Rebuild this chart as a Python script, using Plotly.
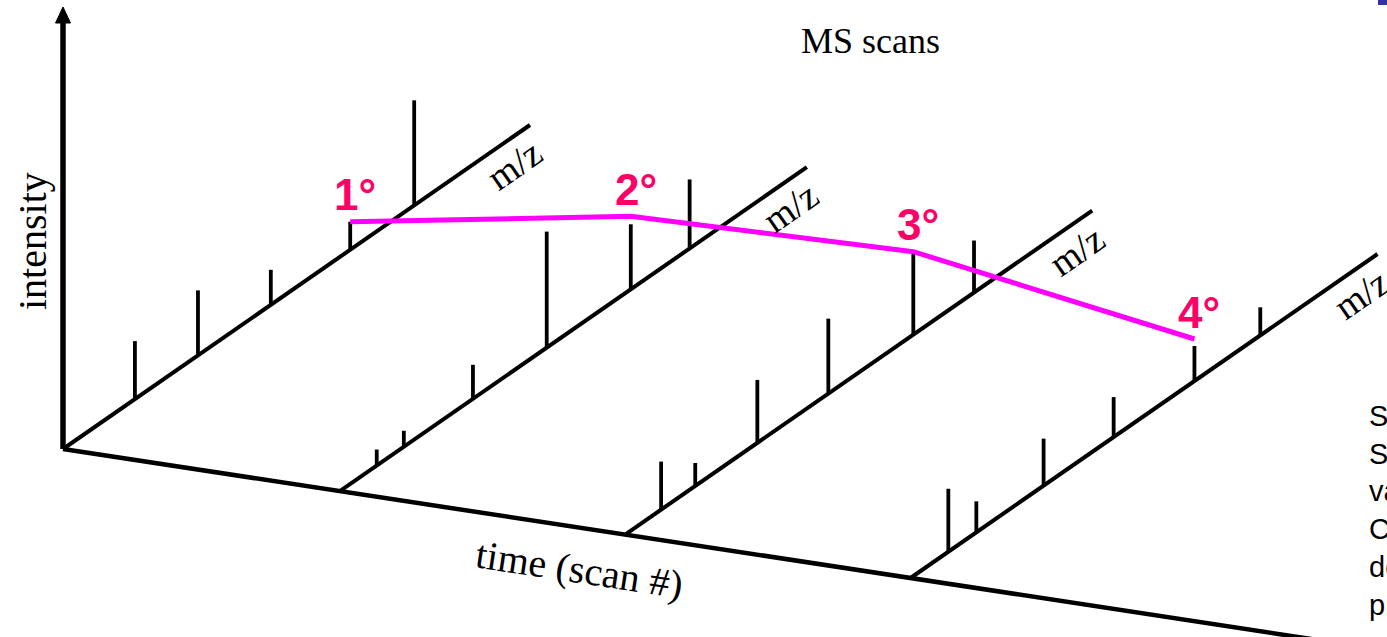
import math
import plotly.graph_objects as go

W, H = 1387, 637

# Scans along the time axis
scan_labels = ["1°", "2°", "3°", "4°"]
scan_time = [1.0, 1.98, 2.99, 4.0]

# Peak lists per scan: m/z position (0-1000 along the m/z axis) and intensity
mz_scan1 = [154, 289, 445, 615, 752]
int_scan1 = [58, 65, 35, 28, 105]
mz_scan2 = [79, 137, 285, 443, 623, 749]
int_scan2 = [16, 16, 34, 116, 65, 69]
mz_scan3 = [77, 150, 283, 435, 617, 747]
int_scan3 = [48, 23, 63, 75, 83, 52]
mz_scan4 = [81, 141, 285, 435, 608, 749]
int_scan4 = [63, 31, 47, 40, 35, 28]

# One ion followed from scan to scan
xic_mz = [615, 623, 617, 608]
xic_intensity = [28, 73, 83, 42]

mz_max = 1000
time_axis_end = 5.5
intensity_axis_max = 442

scans_mz = [mz_scan1, mz_scan2, mz_scan3, mz_scan4]
scans_int = [int_scan1, int_scan2, int_scan3, int_scan4]

# Oblique projection: time runs down-right, m/z up-right, intensity straight up
ORIGIN = (63.0, 449.0)
TIME_VEC = (282.5, 43.0)
MZ_VEC = (467.0, -324.0)
INT_VEC = (0.0, -1.0)


def project(t, mz, inten):
    u = t - scan_time[0]
    f = mz / mz_max
    x = ORIGIN[0] + u * TIME_VEC[0] + f * MZ_VEC[0] + inten * INT_VEC[0]
    y = ORIGIN[1] + u * TIME_VEC[1] + f * MZ_VEC[1] + inten * INT_VEC[1]
    return x, y


def segments(pairs):
    xs, ys = [], []
    for a, b in pairs:
        xs += [a[0], b[0], None]
        ys += [a[1], b[1], None]
    return xs, ys


BLACK = "#000000"
fig = go.Figure()

# time axis
t0 = scan_time[0]
xs, ys = segments([(project(t0, 0, 0), project(time_axis_end, 0, 0))])
fig.add_trace(go.Scatter(x=xs, y=ys, mode="lines", line=dict(color=BLACK, width=4.5)))

# intensity axis with a filled arrowhead
head_len, head_half = 16, 7.5
tip = project(t0, 0, intensity_axis_max)
xs, ys = segments([(project(t0, 0, 0), project(t0, 0, intensity_axis_max - head_len + 2))])
fig.add_trace(go.Scatter(x=xs, y=ys, mode="lines", line=dict(color=BLACK, width=5.5)))
fig.add_trace(go.Scatter(
    x=[tip[0], tip[0] - head_half, tip[0] + head_half, tip[0]],
    y=[tip[1], tip[1] + head_len, tip[1] + head_len, tip[1]],
    mode="lines", fill="toself", fillcolor=BLACK, line=dict(color=BLACK, width=1)))

# m/z baselines of each scan
xs, ys = segments([(project(t, 0, 0), project(t, mz_max, 0)) for t in scan_time])
fig.add_trace(go.Scatter(x=xs, y=ys, mode="lines", line=dict(color=BLACK, width=4)))

# peak sticks
pairs = []
for t, mzs, ints in zip(scan_time, scans_mz, scans_int):
    for mz, inten in zip(mzs, ints):
        pairs.append((project(t, mz, 0), project(t, mz, inten)))
xs, ys = segments(pairs)
fig.add_trace(go.Scatter(x=xs, y=ys, mode="lines", line=dict(color=BLACK, width=3.8)))

# tracked ion profile
xic_pts = [project(t, mz, i) for t, mz, i in zip(scan_time, xic_mz, xic_intensity)]
fig.add_trace(go.Scatter(x=[p[0] for p in xic_pts], y=[p[1] for p in xic_pts],
                         mode="lines", line=dict(color="#FF00FF", width=5)))

serif = "Liberation Serif, Times New Roman, serif"
annotations = []

mz_angle = -math.degrees(math.atan2(-MZ_VEC[1], MZ_VEC[0]))
for t in scan_time:
    x, y = project(t, 966, 0)
    annotations.append(dict(x=x, y=y, xref="x", yref="y", text="m/z", showarrow=False,
                            xanchor="center", yanchor="middle",
                            textangle=mz_angle, yshift=-29,
                            font=dict(family=serif, size=38, color=BLACK)))

for (x, y), lab in zip(xic_pts, scan_labels):
    annotations.append(dict(x=x, y=y, xref="x", yref="y", text=lab, showarrow=False,
                            xanchor="center", yanchor="middle",
                            xshift=5, yshift=27,
                            font=dict(family="Liberation Sans, Arial, sans-serif", size=44,
                                      color="#FF0066", weight="bold")))

time_angle = math.degrees(math.atan2(TIME_VEC[1], TIME_VEC[0]))
tx, ty = project(2.83, 0, 0)
annotations.append(dict(x=tx, y=ty, xref="x", yref="y", text="time (scan #)", showarrow=False,
                        xanchor="center", yanchor="middle",
                        textangle=time_angle, yshift=-42,
                        font=dict(family=serif, size=40, color=BLACK)))

annotations.append(dict(x=870 / W, y=1 - 41 / H, xref="paper", yref="paper", text="MS scans",
                        xanchor="center", yanchor="middle", showarrow=False,
                        font=dict(family=serif, size=36, color=BLACK)))
annotations.append(dict(x=33 / W, y=1 - 241 / H, xref="paper", yref="paper", text="intensity",
                        xanchor="center", yanchor="middle", showarrow=False, textangle=-90,
                        font=dict(family=serif, size=40, color=BLACK)))

annotations.append(dict(x=1367 / W, y=1 - 398 / H, xref="paper", yref="paper",
                        xanchor="left", yanchor="top", align="left", showarrow=False,
                        text="S<br>S<br>va<br>C<br>de<br>pr",
                        font=dict(family="Liberation Sans, Arial, sans-serif", size=29,
                                  color=BLACK)))

fig.update_layout(
    width=W, height=H,
    margin=dict(l=0, r=0, t=0, b=0),
    paper_bgcolor="white", plot_bgcolor="white",
    showlegend=False,
    xaxis=dict(range=[0, W], visible=False, fixedrange=True),
    yaxis=dict(range=[H, 0], visible=False, fixedrange=True),
    annotations=annotations,
    shapes=[dict(type="rect", xref="paper", yref="paper",
                 x0=1378 / W, x1=1.0, y0=1 - 5 / H, y1=1.0,
                 fillcolor="#333399", line=dict(width=0))],
)

fig.write_html("out.html", config={"displayModeBar": False})
